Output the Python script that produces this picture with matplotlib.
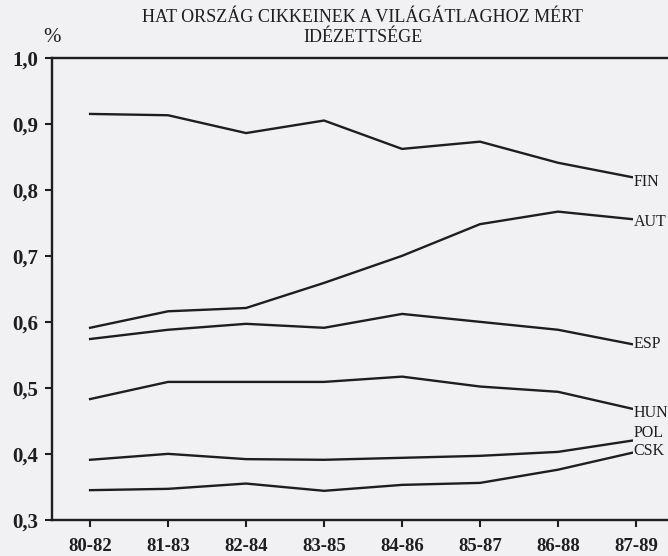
import matplotlib
matplotlib.use("Agg")
import matplotlib.pyplot as plt

periods = ["80-82", "81-83", "82-84", "83-85", "84-86", "85-87", "86-88", "87-89"]
FIN = [0.915, 0.913, 0.886, 0.905, 0.862, 0.873, 0.841, 0.818]
AUT = [0.591, 0.616, 0.621, 0.659, 0.700, 0.748, 0.767, 0.755]
ESP = [0.574, 0.588, 0.597, 0.591, 0.612, 0.600, 0.588, 0.565]
HUN = [0.483, 0.509, 0.509, 0.509, 0.517, 0.502, 0.494, 0.467]
POL = [0.391, 0.400, 0.392, 0.391, 0.394, 0.397, 0.403, 0.421]
CSK = [0.345, 0.347, 0.355, 0.344, 0.353, 0.356, 0.376, 0.403]
series = {"FIN": FIN, "AUT": AUT, "ESP": ESP, "HUN": HUN, "POL": POL, "CSK": CSK}
label_y = {"FIN": 0.812, "AUT": 0.752, "ESP": 0.566, "HUN": 0.462, "POL": 0.432, "CSK": 0.405}
yticks = [0.3, 0.4, 0.5, 0.6, 0.7, 0.8, 0.9, 1.0]
ytick_labels = ["0,3", "0,4", "0,5", "0,6", "0,7", "0,8", "0,9", "1,0"]

plt.rcParams["font.family"] = ["Liberation Serif", "DejaVu Serif"]
bg = "#f1f1f4"
ink = "#1e1e1e"

fig = plt.figure(figsize=(6.68, 5.56), dpi=100, facecolor=bg)
ax = fig.add_axes([0.078, 0.065, 0.922, 0.831], facecolor=bg)

x = list(range(len(periods)))
for name, vals in series.items():
    ax.plot(x, vals, color=ink, lw=1.7, solid_joinstyle="round")
    ax.text(6.97, label_y[name], name, ha="left", va="center", fontsize=11.5, color=ink,
            bbox=dict(boxstyle="square,pad=0.05", fc=bg, ec="none"))

ax.set_xlim(-0.487, 7.41)
ax.set_ylim(0.3, 1.0)
ax.set_xticks(x)
ax.set_xticklabels(periods, fontsize=13.5, fontweight="bold", color=ink)
ax.set_yticks(yticks)
ax.set_yticklabels(ytick_labels, fontsize=15, fontweight="bold", color=ink)
ax.tick_params(axis="both", direction="out", length=5, width=1.5, color=ink)
ax.tick_params(axis="x", pad=8)
ax.tick_params(axis="y", pad=5)
for s in ["left", "bottom", "top"]:
    ax.spines[s].set_linewidth(1.7)
    ax.spines[s].set_color(ink)
ax.spines["right"].set_visible(False)

fig.text(0.543, 0.969, "HAT ORSZÁG CIKKEINEK A VILÁGÁTLAGHOZ MÉRT", ha="center", va="center",
         fontsize=13, color=ink)
fig.text(0.543, 0.933, "IDÉZETTSÉGE", ha="center", va="center", fontsize=13, color=ink)
fig.text(0.078, 0.932, "%", ha="center", va="center", fontsize=15, color=ink)

fig.savefig("out.png", dpi=100, facecolor=bg)
